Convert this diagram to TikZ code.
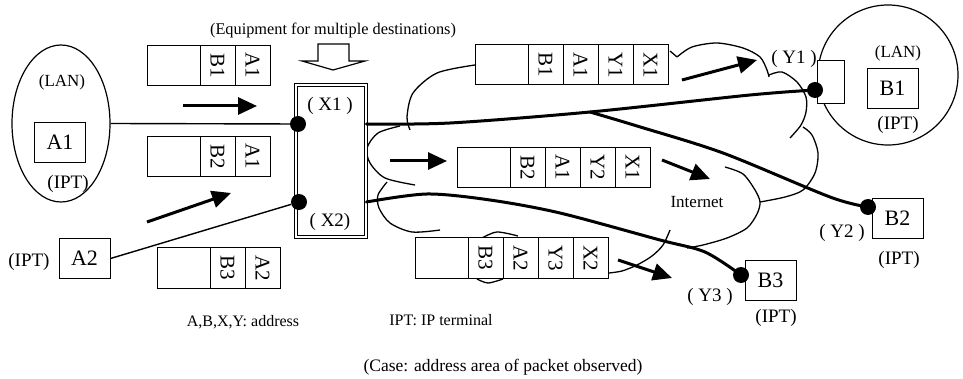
\documentclass[tikz,border=0pt]{standalone}
\usepackage{fontspec}
\setmainfont{Liberation Serif}
\usetikzlibrary{arrows.meta,positioning,shapes.geometric}
\newcommand{\vtext}[1]{\rotatebox{-90}{#1}}
\tikzset{
    term/.style={rectangle, draw, line width=1pt, minimum width=51pt,
        minimum height=40pt, inner sep=0pt, fill=white,
        font=\fontsize{22}{24}\selectfont},
    cell/.style={rectangle, draw, line width=1pt, minimum width=35pt,
        minimum height=40pt, inner sep=0pt, outer sep=0pt, fill=white,
        font=\fontsize{21}{22}\selectfont},
    blank/.style={cell, minimum width=53pt},
    dot/.style={circle, fill=black, inner sep=0pt, minimum size=16pt},
    note/.style={inner sep=0pt, font=\fontsize{16}{18}\selectfont},
    tag/.style={inner sep=0pt, font=\fontsize{19}{21}\selectfont},
    wire/.style={line width=1.4pt},
    trunk/.style={line width=3pt, line cap=round},
    cloudline/.style={line width=1.3pt},
    flow/.style={line width=3pt, -{Triangle[length=19pt,width=17pt]}}
}
\begin{document}
\begin{tikzpicture}[x=1pt,y=-1pt]
\useasboundingbox (0,0) rectangle (963,379);

% internet cloud (drawn first, packets sit on it)
\draw[cloudline] plot[smooth] coordinates {(475,65) (437,73) (413,93) (407,117) (410,130)};
\draw[cloudline] plot[smooth] coordinates {(400,126) (378,133) (367,148) (370,163) (385,178) (415,185)};
\draw[cloudline] plot[smooth] coordinates {(387,182) (378,195) (379,208) (390,223) (412,232) (440,230)};
\draw[cloudline] plot[smooth] coordinates {(482,238) (497,232) (518,236)};
\draw[cloudline] plot[smooth] coordinates {(477,279) (488,283) (503,279)};
\draw[cloudline] plot[smooth] coordinates {(609,273) (622,271) (637,265) (652,256) (663,245) (670,230)};
\draw[cloudline] plot[smooth] coordinates {(725,167) (743,174) (755,190) (760,202) (757,214) (747,228) (727,238) (703,245) (687,248)};
\draw[cloudline] plot[smooth] coordinates {(760,202) (785,197) (803,190) (815,173) (818,153) (812,135) (803,127)};
\draw[cloudline] (670,51) -- (677,57);
\draw[cloudline] plot[smooth] coordinates {(677,57) (692,47) (717,43) (743,48) (760,57) (767,70) (769,77)};
\draw[cloudline] plot[smooth] coordinates {(769,75) (782,72) (797,82) (806,97) (806,112) (801,125) (790,138)};

% LANs and terminals
\node[draw, ellipse, line width=1.2pt, minimum width=98pt, minimum height=157pt, inner sep=0pt] (lanA) at (61,123.5) {};
\node[draw, circle, line width=1.2pt, minimum size=140pt, inner sep=0pt] (lanB) at (888,75) {};
\node[note, font=\fontsize{17}{19}\selectfont] at (62,82) {(LAN)};
\node[term] (A1) at (60,142.5) {A1};
\node[tag] at (68,184) {(IPT)};
\node[term] (A2) at (84.5,258.5) {A2};
\node[tag] at (29,262) {(IPT)};
\node[note, font=\fontsize{17}{19}\selectfont] at (898,53) {(LAN)};
\node[term] (B1) at (892.5,88.5) {B1};
\node[tag] at (898,125) {(IPT)};
\node[draw, line width=1pt, fill=white, minimum width=27pt, minimum height=43pt, inner sep=0pt] (portY1) at (830.5,82.5) {};
\node[term] (B2) at (897.5,218.5) {B2};
\node[tag] at (899,260) {(IPT)};
\node[term] (B3) at (770.5,280.5) {B3};
\node[tag] at (776,318) {(IPT)};

% equipment for multiple destinations
\node[note, font=\fontsize{16.3}{18}\selectfont] (title) at (333,30) {(Equipment for multiple destinations)};
\draw[line width=1.2pt] (318,44) -- (349,44) -- (349,61) -- (365,61) -- (333,70) -- (302,61) -- (318,61) -- cycle;
\node[draw, double, double distance=2pt, line width=0.8pt, minimum width=70pt, minimum height=152pt, inner sep=0pt] (equip) at (331,161) {};

% packets on the LAN side
\node[blank, anchor=west] (pa) at (147,65.5) {};
\node[cell, right=0pt of pa] (paB) {\vtext{B1}};
\node[cell, right=0pt of paB] (paA) {\vtext{A1}};
\node[blank, anchor=west] (pb) at (147,156.5) {};
\node[cell, right=0pt of pb] (pbB) {\vtext{B2}};
\node[cell, right=0pt of pbB] (pbA) {\vtext{A1}};
\node[blank, anchor=west] (pc) at (157,268) {};
\node[cell, right=0pt of pc] (pcB) {\vtext{B3}};
\node[cell, right=0pt of pcB] (pcA) {\vtext{A2}};

% packets on the internet side
\node[blank, anchor=west] (qa) at (475,65) {};
\node[cell, right=0pt of qa] (qaB) {\vtext{B1}};
\node[cell, right=0pt of qaB] (qaA) {\vtext{A1}};
\node[cell, right=0pt of qaA] (qaY) {\vtext{Y1}};
\node[cell, right=0pt of qaY] (qaX) {\vtext{X1}};
\node[blank, anchor=west] (qb) at (457,167.5) {};
\node[cell, right=0pt of qb] (qbB) {\vtext{B2}};
\node[cell, right=0pt of qbB] (qbA) {\vtext{A1}};
\node[cell, right=0pt of qbA] (qbY) {\vtext{Y2}};
\node[cell, right=0pt of qbY] (qbX) {\vtext{X1}};
\node[blank, anchor=west] (qc) at (415,258) {};
\node[cell, right=0pt of qc] (qcB) {\vtext{B3}};
\node[cell, right=0pt of qcB] (qcA) {\vtext{A2}};
\node[cell, right=0pt of qcA] (qcY) {\vtext{Y3}};
\node[cell, right=0pt of qcY] (qcX) {\vtext{X2}};

% addresses
\node[dot] (X1) at (298,124) {};
\node[dot] (X2) at (299,202) {};
\node[dot] (Y1) at (815,90) {};
\node[dot] (Y2) at (868,207) {};
\node[dot] (Y3) at (741,275) {};
\node[tag] at (330,106) {( X1 )};
\node[tag] at (330,222) {( X2)};
\node[tag] at (794,59) {( Y1 )};
\node[tag] at (842,233) {( Y2 )};
\node[tag] at (710,297) {( Y3 )};
\coordinate (fork) at (590,112);

% connections
\draw[wire] (lanA.east) -- (X1);
\draw[wire] (A2.east) -- (X2);
\draw[trunk] plot[smooth] coordinates {(X1 -| equip.east) (450,123) (fork) (750,95) (Y1)};
\draw[trunk] plot[smooth] coordinates {(fork) (637,126) (723,153) (830,197) (Y2)};
\draw[trunk] plot[smooth] coordinates {(X2 -| equip.east) (427,194) (490,200) (560,213) (660,240) (705,252) (Y3)};

% packet flow
\draw[flow] (183,106) -- (257,106);
\draw[flow] (147,222) -- (231,193);
\draw[flow] (390,161) -- (447,161);
\draw[flow] (662,160) -- (710,179);
\draw[flow] (682,80) -- (757,60);
\draw[flow] (618,260) -- (672,278);

\node[note, font=\fontsize{17}{19}\selectfont] at (697,202) {Internet};
\node[note] at (243,322) {A,B,X,Y: address};
\node[note] at (441,320) {IPT: IP terminal};
\node[note, font=\fontsize{17.5}{19}\selectfont] at (503,367) {(Case: address area of packet observed)};
\end{tikzpicture}
\end{document}
